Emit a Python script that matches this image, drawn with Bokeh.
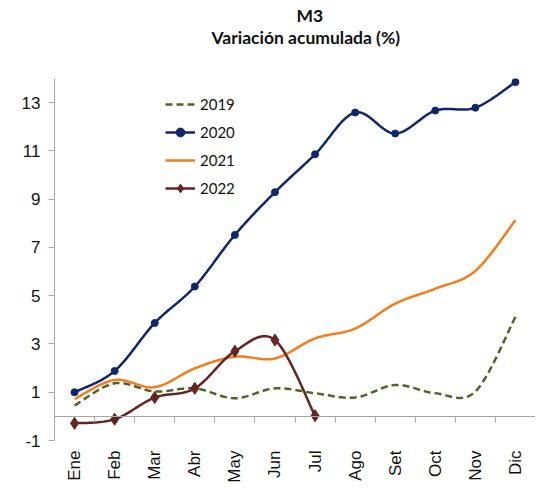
import numpy as np
from bokeh.plotting import figure
from bokeh.models import Range1d, LinearAxis, FixedTicker, Legend, LegendItem, Title
from bokeh.embed import file_html
from bokeh.resources import INLINE

months = ["Ene", "Feb", "Mar", "Abr", "May", "Jun", "Jul", "Ago", "Set", "Oct", "Nov", "Dic"]
v2019 = [0.45, 1.37, 1.03, 1.16, 0.75, 1.16, 0.96, 0.78, 1.30, 0.96, 1.03, 4.12]
v2020 = [1.00, 1.88, 3.87, 5.38, 7.52, 9.29, 10.86, 12.59, 11.72, 12.67, 12.79, 13.85]
v2021 = [0.72, 1.51, 1.21, 1.99, 2.47, 2.40, 3.23, 3.64, 4.67, 5.29, 6.03, 8.13]
v2022 = [-0.29, -0.12, 0.78, 1.16, 2.70, 3.16, 0.03]
y_ticks = [-1, 1, 3, 5, 7, 9, 11, 13]
title_main = "M3"
title_sub = "Variación acumulada (%)"

FONT = "Liberation Sans"
LFONT = "Lato"


def smooth(xs, ys, n=24):
    pts = np.column_stack([xs, ys]).astype(float)
    m = len(pts)
    out = []
    for i in range(m - 1):
        p0 = pts[i - 1] if i > 0 else pts[i]
        p1 = pts[i]
        p2 = pts[i + 1]
        p3 = pts[i + 2] if i + 2 < m else pts[i + 1]
        c1 = p1 + (p2 - p0) / 6.0
        c2 = p2 - (p3 - p1) / 6.0
        t = np.linspace(0, 1, n, endpoint=(i == m - 2))[:, None]
        seg = (1 - t) ** 3 * p1 + 3 * (1 - t) ** 2 * t * c1 + 3 * (1 - t) * t ** 2 * c2 + t ** 3 * p2
        out.append(seg)
    out = np.vstack(out)
    return out[:, 0], out[:, 1]


p = figure(width=535, height=492, output_backend="svg", toolbar_location=None,
           x_range=Range1d(0, 12), y_range=Range1d(-1, 14),
           x_axis_type=None, y_axis_type=None,
           min_border_left=54, min_border_right=0, min_border_top=78, min_border_bottom=52)
p.outline_line_color = None
p.background_fill_color = "white"

# subtitle (closest to the frame); trailing line break keeps a gap above the frame
p.add_layout(Title(text=title_sub + "\n", align="left", offset=157, vertical_align="top",
                   text_font=LFONT, text_font_size="17.5px", text_font_style="bold",
                   text_color="#111111", text_line_height=1.36, standoff=0), "above")
p.add_layout(Title(text=title_main, align="left", offset=242, vertical_align="middle",
                   text_font=LFONT, text_font_size="17.5px", text_font_style="bold",
                   text_color="#111111", standoff=0), "above")

axis_col = "#A6A6A6"
yax = LinearAxis(ticker=FixedTicker(ticks=y_ticks), major_tick_out=6, major_tick_in=0,
                 minor_tick_out=0, minor_tick_in=0, axis_line_color=axis_col,
                 major_tick_line_color=axis_col, major_label_text_font=FONT,
                 major_label_text_font_size="17px", major_label_text_color="#111111",
                 major_label_standoff=8, major_label_overrides={-1: "-1"})
p.add_layout(yax, "left")

xcenters = [i + 0.5 for i in range(len(months))]
bounds = list(range(1, len(months)))
xt = LinearAxis(ticker=FixedTicker(ticks=bounds), fixed_location=0,
                major_tick_out=6, major_tick_in=0, minor_tick_out=0, minor_tick_in=0,
                axis_line_color=axis_col, major_tick_line_color=axis_col,
                major_label_overrides={b: "" for b in bounds})
p.add_layout(xt, "below")
xl = LinearAxis(ticker=FixedTicker(ticks=xcenters),
                major_tick_out=0, major_tick_in=0, minor_tick_out=0, minor_tick_in=0,
                axis_line_color=None, major_tick_line_color=None,
                major_label_overrides={x: m for x, m in zip(xcenters, months)},
                major_label_orientation=np.pi / 2, major_label_standoff=10,
                major_label_text_font=FONT, major_label_text_font_size="17px",
                major_label_text_color="#111111")
p.add_layout(xl, "below")

c2019, c2020, c2021, c2022 = "#4F6228", "#10266B", "#F47D1A", "#632523"

x19, y19 = smooth(xcenters, v2019)
r19 = p.line(x19, y19, line_color=c2019, line_width=2.5, line_dash="7 4")
x20, y20 = smooth(xcenters, v2020)
r20 = p.line(x20, y20, line_color=c2020, line_width=2.5)
m20 = p.scatter(xcenters, v2020, marker="circle", size=7, fill_color=c2020, line_color=c2020)
x21, y21 = smooth(xcenters, v2021)
r21 = p.line(x21, y21, line_color=c2021, line_width=2.5)
x22, y22 = smooth(xcenters[:len(v2022)], v2022)
r22 = p.line(x22, y22, line_color=c2022, line_width=2.5)
m22 = p.scatter(xcenters[:len(v2022)], v2022, marker="diamond", size=12, fill_color=c2022, line_color=c2022)

legend = Legend(items=[LegendItem(label="2019", renderers=[r19]),
                       LegendItem(label="2020", renderers=[r20, m20]),
                       LegendItem(label="2021", renderers=[r21]),
                       LegendItem(label="2022", renderers=[r22, m22])],
                location=(111, 241), padding=0, margin=0, spacing=6,
                glyph_width=30, glyph_height=22, label_height=22, label_standoff=5,
                label_text_font=LFONT, label_text_font_size="15px", label_text_color="#111111",
                border_line_color=None, background_fill_alpha=0)
p.add_layout(legend, "center")

open("out.html", "w").write(file_html(p, INLINE))
